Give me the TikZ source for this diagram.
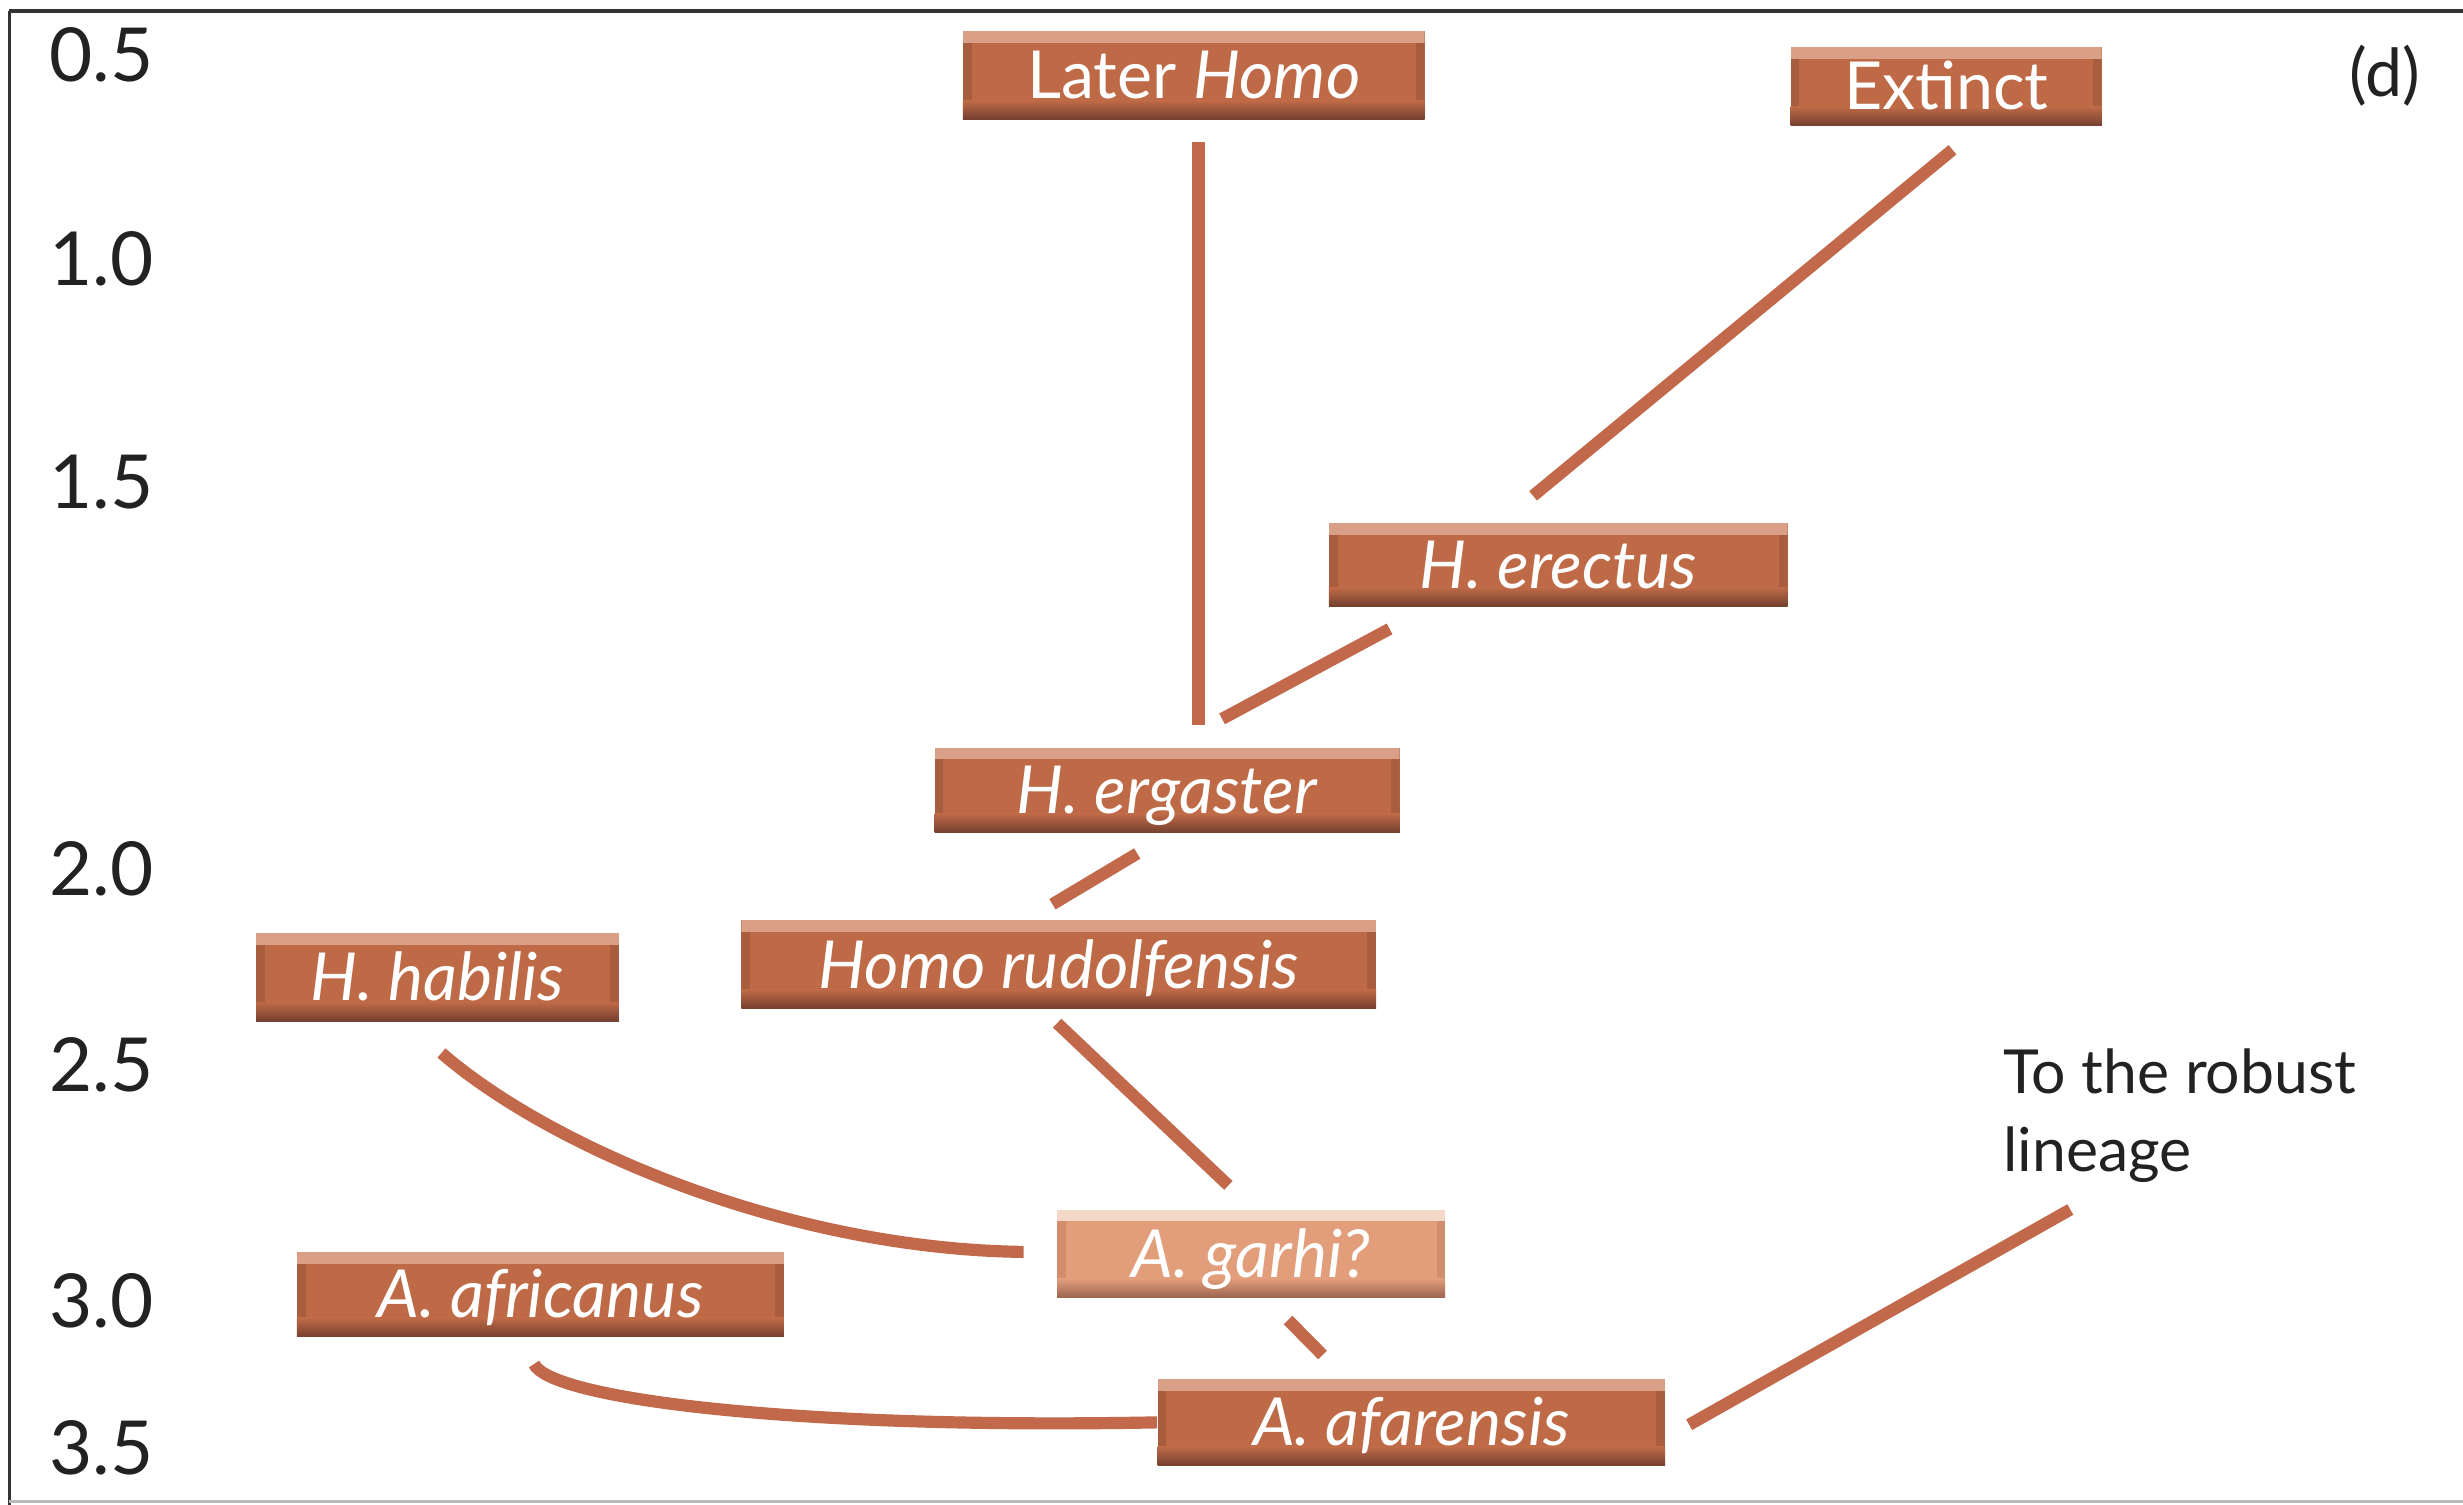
\documentclass[tikz,border=0pt]{standalone}
\usepackage{fontspec}
\setmainfont{Lato}
\usetikzlibrary{calc}
\definecolor{boxmain}{HTML}{BF6A47}
\definecolor{boxtop}{HTML}{D9A087}
\definecolor{boxbot}{HTML}{744030}
\definecolor{boxside}{HTML}{A85D3F}
\definecolor{ltmain}{HTML}{E29E7B}
\definecolor{lttop}{HTML}{F5D9C8}
\definecolor{ltbot}{HTML}{9C6650}
\definecolor{ltside}{HTML}{D28E6C}
\definecolor{linkcol}{HTML}{C1694A}
\definecolor{labcol}{HTML}{222222}
\definecolor{framecol}{HTML}{333333}
\definecolor{framelt}{HTML}{BBBBBB}
\begin{document}
\begin{tikzpicture}[x=0.2mm,y=-0.2mm,
  bevel/.style n args={4}{fill=#1, draw=none, text=white, inner sep=0pt,
    text height=6mm, text depth=0pt,
    font=\fontsize{24pt}{28pt}\selectfont,
    path picture={
      \fill[#4] (path picture bounding box.north west) rectangle ([xshift=1.1mm]path picture bounding box.south west);
      \fill[#4] ([xshift=-1.1mm]path picture bounding box.north east) rectangle (path picture bounding box.south east);
      \fill[#2] (path picture bounding box.north west) rectangle ([yshift=-1.5mm]path picture bounding box.north east);
      \shade[top color=#1, bottom color=#3] ([yshift=2.4mm]path picture bounding box.south west) rectangle (path picture bounding box.south east);
    }},
  spbox/.style={bevel={boxmain}{boxtop}{boxbot}{boxside}},
  ltbox/.style={bevel={ltmain}{lttop}{ltbot}{ltside}},
  link/.style={draw=linkcol, line width=1.55mm},
  axislab/.style={anchor=west, inner sep=0pt, text=labcol, font=\fontsize{27pt}{32pt}\selectfont},
  lab/.style={inner sep=0pt, text=labcol, font=\fontsize{22pt}{28.5pt}\selectfont}
]
\useasboundingbox (0,0) rectangle (1568,958);
\fill[white] (0,0) rectangle (1568,958);
% frame
\draw[framecol, line width=0.45mm] (6,7) -- (1568,7);
\draw[framecol, line width=0.45mm] (6,7) -- (6,958);
\draw[framelt, line width=0.35mm] (6,956) -- (1568,956);

% axis labels
\node[axislab] (t05) at (31,35) {0.5};
\node[axislab] (t10) at (31,165) {1.0};
\node[axislab] (t15) at (31,307) {1.5};
\node[axislab] (t20) at (31,553) {2.0};
\node[axislab] (t25) at (31,678) {2.5};
\node[axislab] (t30) at (31,828) {3.0};
\node[axislab] (t35) at (31,922) {3.5};

% species boxes
\node[spbox, minimum width=58.8mm, minimum height=11.2mm] (later) at (760,48) {Later \textit{Homo}};
\node[spbox, minimum width=39.6mm, minimum height=10mm] (extinct) at (1239,55) {Extinct};
\node[spbox, minimum width=58.4mm, minimum height=10.6mm] (erectus) at (992,359.5) {\textit{H. erectus}};
\node[spbox, minimum width=59.2mm, minimum height=10.8mm] (ergaster) at (743,503) {\textit{H. ergaster}};
\node[spbox, minimum width=80.8mm, minimum height=11.2mm] (rudolf) at (674,614) {\textit{Homo rudolfensis}};
\node[spbox, minimum width=46.2mm, minimum height=11.2mm] (habilis) at (278.5,622) {\textit{H. habilis}};
\node[ltbox, minimum width=49.4mm, minimum height=11.2mm] (garhi) at (796.5,798) {\textit{A. garhi?}};
\node[spbox, minimum width=62mm, minimum height=10.8mm] (africanus) at (344,824) {\textit{A. africanus}};
\node[spbox, minimum width=64.6mm, minimum height=11mm] (afarensis) at (898.5,905.5) {\textit{A. afarensis}};

% other labels
\node[lab, font=\fontsize{24pt}{28pt}\selectfont] (dlabel) at (1518,48) {(d)};
\node[lab, anchor=north west, align=left] (robusttxt) at (1275,667) {To the robust\\lineage};
\coordinate (robust) at (1318,770);

% connectors
\draw[link] ([shift={(3,14)}]later.south) -- ([shift={(20,-14)}]ergaster.north);
\draw[link] ([shift={(4,15)}]extinct.south) -- ([shift={(-16,-17)}]erectus.north);
\draw[link] ([shift={(39,14)}]erectus.south west) -- ([shift={(35,-18)}]ergaster.north);
\draw[link] ([shift={(-19,13)}]ergaster.south) -- ([shift={(-4,-10)}]rudolf.north);
\draw[link] ([shift={(-1,9)}]rudolf.south) -- ([shift={(-14.5,-15)}]garhi.north);
\draw[link] ([shift={(2.5,20)}]habilis.south) .. controls (350,730) and (500,795) .. ([shift={(-21,-1)}]garhi.west);
\draw[link] ([shift={(23.5,14)}]garhi.south) -- ([shift={(-56.5,-15)}]afarensis.north);
\draw[link] ([shift={(-4,17)}]africanus.south) .. controls (350,890) and (500,910) .. (afarensis.west);
\draw[link] ([shift={(15,1.5)}]afarensis.east) -- (robust);
\end{tikzpicture}
\end{document}
